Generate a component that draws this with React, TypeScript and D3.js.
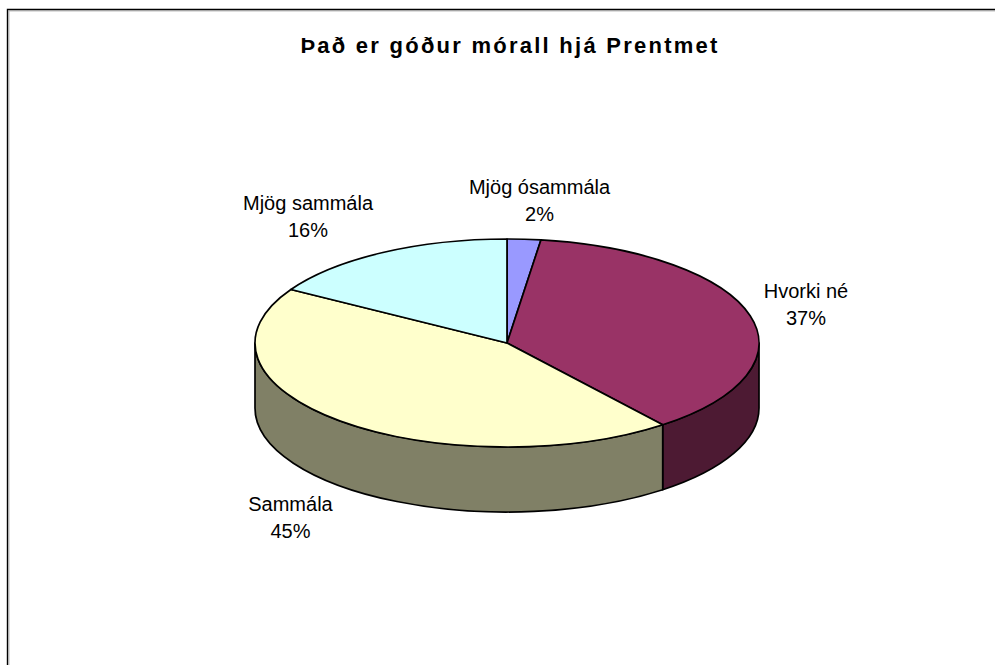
import React from "react";
import * as d3 from "d3";

const categories = ["Mjög ósammála", "Hvorki né", "Sammála", "Mjög sammála"];
const values = [2.15, 37.25, 44.2, 16.4];
const percentLabels = ["2%", "37%", "45%", "16%"];
const topColors = ["#9999FF", "#993366", "#FFFFCC", "#CCFFFF"];
const sideColors = ["#4D4D80", "#4D1A33", "#808066", "#668080"];
const labelAnchors: [number, number][] = [[539.5, 194], [806, 298], [290.5, 511], [308, 210]];
const titleText = "Það er góður mórall hjá Prentmet";

const W = 995, H = 665;
const cx = 507, cy = 343, rx = 252, ry = 104, depth = 65;
const xUnit = d3.scaleLinear().domain([-1, 1]).range([cx - rx, cx + rx]);
const yUnit = d3.scaleLinear().domain([-1, 1]).range([cy - ry, cy + ry]);

const arcs = d3.pie<number>().sort(null)(values);

function pt(a: number, dy = 0): [number, number] {
  return [xUnit(Math.sin(a)), yUnit(-Math.cos(a)) + dy];
}

function topPath(a0: number, a1: number) {
  const [x0, y0] = pt(a0);
  const [x1, y1] = pt(a1);
  const large = a1 - a0 > Math.PI ? 1 : 0;
  return `M${cx},${cy}L${x0},${y0}A${rx},${ry} 0 ${large} 1 ${x1},${y1}Z`;
}

function sidePath(a0: number, a1: number) {
  const s = Math.max(a0, Math.PI / 2);
  const e = Math.min(a1, (3 * Math.PI) / 2);
  if (e <= s) return null;
  const [x0, y0] = pt(s);
  const [x1, y1] = pt(e);
  return `M${x0},${y0}A${rx},${ry} 0 0 1 ${x1},${y1}L${x1},${y1 + depth}A${rx},${ry} 0 0 0 ${x0},${y0 + depth}Z`;
}

const font = "Arial, 'Liberation Sans', sans-serif";

export default function App() {
  return (
    <svg width={W} height={H} viewBox={`0 0 ${W} ${H}`} style={{ position: "absolute", left: 0, top: 0, display: "block", background: "#fff" }}>
      <path d={`M9,${H}V11H${W}`} fill="none" stroke="#bdbdbd" strokeWidth={1} />
      <path d={`M7.5,${H}V9.5H${W}`} fill="none" stroke="#000" strokeWidth={1.4} />
      <text x={510} y={53} textAnchor="middle" fontFamily={font} fontSize={22} fontWeight="bold" letterSpacing={2.25}>{titleText}</text>
      <g stroke="#000" strokeWidth={1.7} strokeLinejoin="round">
        {arcs.map((d, i) => {
          const p = sidePath(d.startAngle, d.endAngle);
          return p ? <path key={i} d={p} fill={sideColors[i]} /> : null;
        })}
        {arcs.map((d, i) => (
          <path key={i} d={topPath(d.startAngle, d.endAngle)} fill={topColors[i]} />
        ))}
      </g>
      <g fontFamily={font} fontSize={20} fill="#000" textAnchor="middle">
        {categories.map((c, i) => (
          <text key={c} x={labelAnchors[i][0]} y={labelAnchors[i][1]}>
            <tspan x={labelAnchors[i][0]}>{c}</tspan>
            <tspan x={labelAnchors[i][0]} dy={26.5}>{percentLabels[i]}</tspan>
          </text>
        ))}
      </g>
    </svg>
  );
}
